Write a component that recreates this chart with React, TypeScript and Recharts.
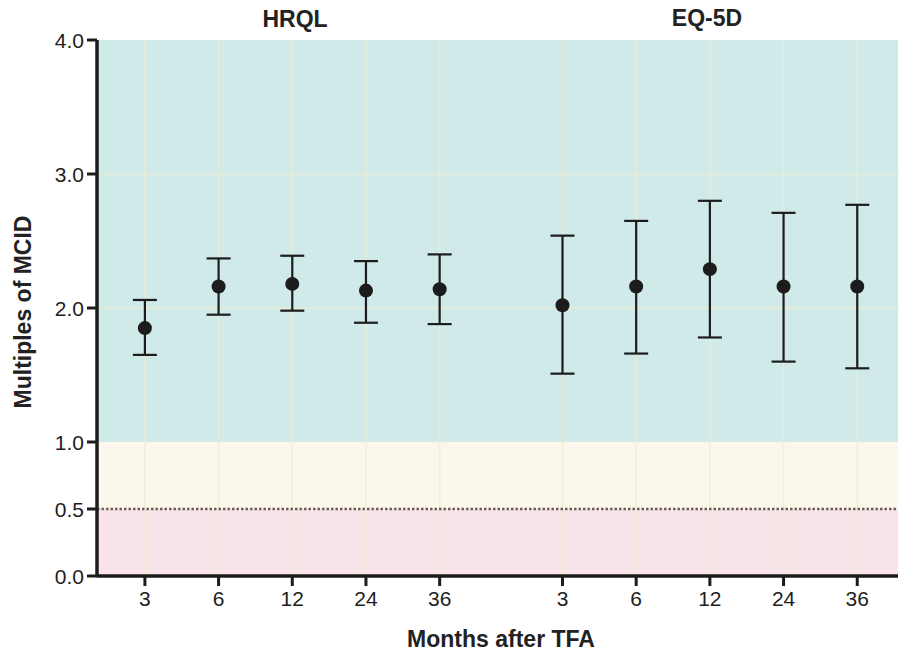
import React from 'react';
import {
  ScatterChart,
  Scatter,
  XAxis,
  YAxis,
  ErrorBar,
  ReferenceArea,
  ReferenceLine,
} from 'recharts';

// ---- data ----
const months = ['3', '6', '12', '24', '36'];
const groups = ['HRQL', 'EQ-5D'];

const hrqlMean = [1.85, 2.16, 2.18, 2.13, 2.14];
const hrqlLower = [1.65, 1.95, 1.98, 1.89, 1.88];
const hrqlUpper = [2.06, 2.37, 2.39, 2.35, 2.40];

const eqMean = [2.02, 2.16, 2.29, 2.16, 2.16];
const eqLower = [1.51, 1.66, 1.78, 1.60, 1.55];
const eqUpper = [2.54, 2.65, 2.80, 2.71, 2.77];

const yTicks = [0, 0.5, 1, 2, 3, 4];

// ---- layout helpers ----
const GROUP_OFFSETS = [1, 6.667];
const hrqlPos = months.map((_, i) => GROUP_OFFSETS[0] + i);
const eqPos = months.map((_, i) => GROUP_OFFSETS[1] + i);
const tickPos = [...hrqlPos, ...eqPos];
const tickLabels = [...months, ...months];

const build = (pos: number[], mean: number[], lo: number[], hi: number[]) =>
  mean.map((m, i) => ({ x: pos[i], y: m, err: [m - lo[i], hi[i] - m] }));

const hrqlData = build(hrqlPos, hrqlMean, hrqlLower, hrqlUpper);
const eqData = build(eqPos, eqMean, eqLower, eqUpper);

const FONT = '"Liberation Sans", Arial, Helvetica, sans-serif';
const INK = '#1c1c1c';
const TICK_FS = 21;

const Dot = (props: any) => {
  const { cx, cy } = props;
  if (cx == null || cy == null) return null;
  return <circle cx={cx} cy={cy} r={7} fill={INK} />;
};

const XTick = (props: any) => {
  const { x, y, payload, index } = props;
  return (
    <text x={x} y={y} dy={TICK_FS * 0.72} textAnchor="middle" fontFamily={FONT} fontSize={TICK_FS} fill="#1e1e1e">
      {tickLabels[index]}
    </text>
  );
};

const YTick = (props: any) => {
  const { x, y, payload } = props;
  return (
    <text x={x} y={y} dy={TICK_FS * 0.36} textAnchor="end" fontFamily={FONT} fontSize={TICK_FS} fill="#1e1e1e">
      {Number(payload.value).toFixed(1)}
    </text>
  );
};

export default function App() {
  return (
    <div style={{ position: 'absolute', left: 0, top: 0, width: 898, height: 652, background: '#fff' }}>
      <ScatterChart
        width={898}
        height={652}
        margin={{ top: 40, right: 0, bottom: 0, left: 0 }}
      >
        <XAxis
          type="number"
          dataKey="x"
          domain={[0.35, 11.22]}
          ticks={tickPos}
          interval={0}
          allowDataOverflow
          height={76}
          tick={<XTick />}
          tickSize={10}
          tickMargin={5}
          tickLine={{ stroke: INK, strokeWidth: 3 }}
          axisLine={{ stroke: INK, strokeWidth: 3.5 }}
        />
        <YAxis
          type="number"
          dataKey="y"
          domain={[0, 4]}
          ticks={yTicks}
          interval={0}
          width={97}
          tick={<YTick />}
          tickSize={10}
          tickMargin={3}
          tickLine={{ stroke: INK, strokeWidth: 3 }}
          axisLine={{ stroke: INK, strokeWidth: 3.5 }}
        />
        <ReferenceArea y1={1} y2={4} fill="#d0e9e9" fillOpacity={1} stroke="none" />
        <ReferenceArea y1={0.5} y2={1} fill="#fbf8eb" fillOpacity={1} stroke="none" />
        <ReferenceArea y1={0} y2={0.5} fill="#f9e4e9" fillOpacity={1} stroke="none" />
        {tickPos.map((p, i) => (
          <ReferenceLine key={'gx' + i} x={p} stroke="#ecedcf" strokeOpacity={0.8} strokeWidth={1.5} />
        ))}
        {[2, 3].map((v) => (
          <ReferenceLine key={'gy' + v} y={v} stroke="#ecedcf" strokeOpacity={0.8} strokeWidth={1.5} />
        ))}
        <ReferenceLine y={0.5} stroke="#6b5e55" strokeWidth={2.5} strokeDasharray="2.5 2" />
        <Scatter name={groups[0]} data={hrqlData} shape={Dot} isAnimationActive={false}>
          <ErrorBar dataKey="err" direction="y" width={12} stroke={INK} strokeWidth={2.2} isAnimationActive={false} />
        </Scatter>
        <Scatter name={groups[1]} data={eqData} shape={Dot} isAnimationActive={false}>
          <ErrorBar dataKey="err" direction="y" width={12} stroke={INK} strokeWidth={2.2} isAnimationActive={false} />
        </Scatter>
      </ScatterChart>
      <svg
        width={898}
        height={652}
        style={{ position: 'absolute', left: 0, top: 0, pointerEvents: 'none' }}
      >
        <text x={295} y={27} textAnchor="middle" fontFamily={FONT} fontWeight="bold" fontSize={23} fill="#222">
          {groups[0]}
        </text>
        <text x={707} y={26} textAnchor="middle" fontFamily={FONT} fontWeight="bold" fontSize={23} fill="#222">
          {groups[1]}
        </text>
        <text x={501} y={647} textAnchor="middle" fontFamily={FONT} fontWeight="bold" fontSize={23} fill="#222">
          Months after TFA
        </text>
        <text
          x={0}
          y={0}
          transform="translate(30.5,312) rotate(-90)"
          textAnchor="middle"
          fontFamily={FONT}
          fontWeight="bold"
          fontSize={23}
          fill="#222"
        >
          Multiples of MCID
        </text>
      </svg>
    </div>
  );
}
